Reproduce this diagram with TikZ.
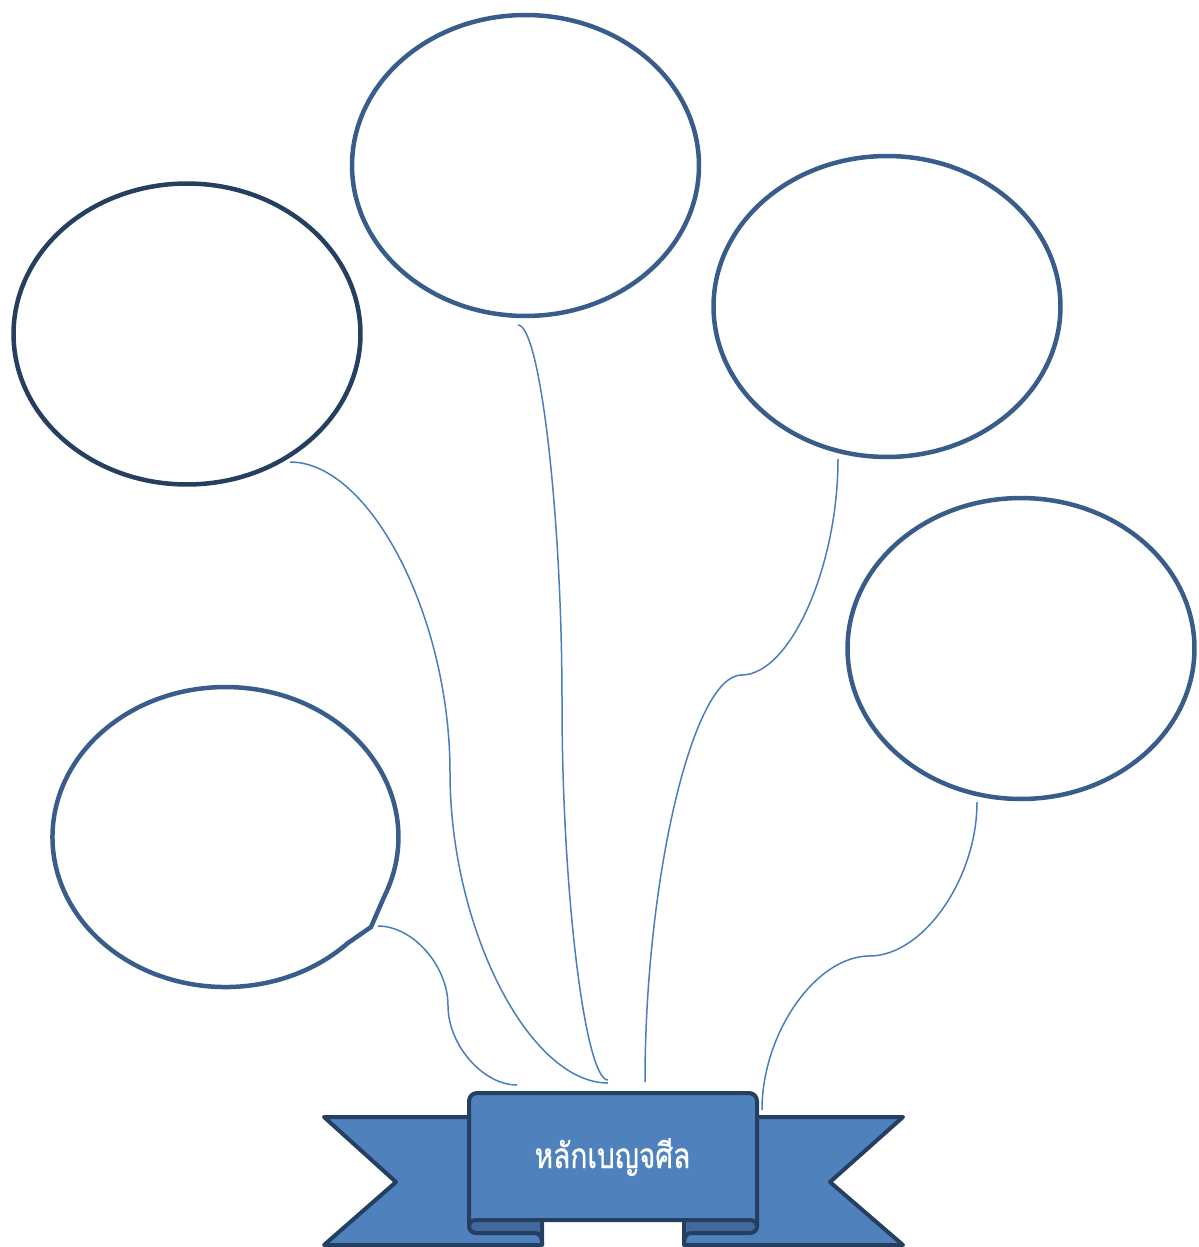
\documentclass[tikz,border=0pt]{standalone}
\usepackage{fontspec}
\newfontfamily\thaifont[Script=Thai, FakeStretch=0.8, FakeBold=0.8]{Loma}
\usetikzlibrary{shapes.geometric}
\definecolor{bubbleline}{HTML}{385D8A}
\definecolor{bubbledark}{HTML}{243F60}
\definecolor{linkblue}{HTML}{4A7EBB}
\definecolor{ribfill}{HTML}{4F81BD}
\definecolor{ribline}{HTML}{243F60}
\definecolor{ribshade}{HTML}{41699C}
\begin{document}
\begin{tikzpicture}[x=0.02cm,y=-0.02cm,
  bubble/.style={ellipse, draw=bubbleline, line width=0.09cm, minimum width=6.94cm, minimum height=6.02cm, inner sep=0pt},
  link/.style={draw=linkblue, line width=0.03cm},
  ribpart/.style={fill=ribfill, draw=ribline, line width=0.08cm, line join=round},
  ribedge/.style={draw=ribline, line width=0.08cm, line join=round},
]
\useasboundingbox (0,0) rectangle (1199,1247);

% ---- ribbon tails ----
\path[ribpart] (324,1117) -- (500,1117) -- (500,1215) -- (542,1215) -- (542,1245) -- (324,1245) -- (396,1182) -- cycle;
\path[ribpart] (903,1117) -- (726,1117) -- (726,1215) -- (684,1215) -- (684,1245) -- (903,1245) -- (830,1182) -- cycle;
% roll interiors
\fill[ribshade] (476,1220) arc[start angle=270, end angle=90, x radius=7, y radius=6.5] -- (540,1233) -- (540,1220) -- cycle;
\fill[ribshade] (750,1220) arc[start angle=270, end angle=450, x radius=7, y radius=6.5] -- (686,1233) -- (686,1220) -- cycle;
\draw[ribedge] (469,1226.5) arc[start angle=180, end angle=90, x radius=7, y radius=6.5] -- (535,1233) to[out=0,in=90] (542,1242) -- (542,1245);
\draw[ribedge] (757,1226.5) arc[start angle=0, end angle=90, x radius=7, y radius=6.5] -- (691,1233) to[out=180,in=90] (684,1242) -- (684,1245);
% ---- ribbon panel ----
\path[ribpart] (469,1226.5) -- (469,1101) arc[start angle=180, end angle=270, radius=8]
  -- (749,1093) arc[start angle=270, end angle=360, radius=8]
  -- (757,1226.5) arc[start angle=0, end angle=-90, x radius=7, y radius=6.5]
  -- (476,1220) arc[start angle=270, end angle=180, x radius=7, y radius=6.5] -- cycle;
\node[text=white, font=\thaifont\fontsize{20}{24}\selectfont, inner sep=0pt, anchor=base] (title) at (612.5,1168) {หลักเบญจศีล};

% ---- bubbles ----
\node[bubble, draw=bubbledark] (e1) at (187,334) {};
\node[bubble] (e2) at (525.5,165.5) {};
\node[bubble] (e3) at (887,306.5) {};
\node[bubble] (e4) at (1021,648.5) {};
\coordinate (e5) at (225.5,837);
\draw[draw=bubbleline, line width=0.09cm, line join=miter] (371,927) -- (347.8,943.1)
  arc[start angle=45, end angle=383.6, x radius=173, y radius=150] -- cycle;

% ---- connector end points ----
\coordinate (a0) at (290,462);   \coordinate (a1) at (450,772.5);  \coordinate (a2) at (608,1083);
\coordinate (b0) at (518,325);   \coordinate (b1) at (562,702.5);  \coordinate (b2) at (608,1080);
\coordinate (c0) at (838,459);   \coordinate (c1) at (741.5,675);  \coordinate (c2) at (645,1082);
\coordinate (d0) at (977,802);   \coordinate (d1) at (869.5,956);  \coordinate (d2) at (762,1110);
\coordinate (f0) at (378,926);   \coordinate (f1) at (448,1005.5); \coordinate (f2) at (517,1085);

% ---- connectors ----
\draw[link] (a0) .. controls (370,462) and (450,617) .. (a1) .. controls (450,928) and (529,1083) .. (a2);
\draw[link] (b0) .. controls (540,325) and (562,514) .. (b1) .. controls (562,891) and (585,1080) .. (b2);
\draw[link] (c0) .. controls (838,567) and (790,675) .. (c1) .. controls (693,675) and (645,878.5) .. (c2);
\draw[link] (d0) .. controls (977,879) and (923,956) .. (d1) .. controls (816,956) and (762,1033) .. (d2);
\draw[link] (f0) .. controls (413,926) and (448,966) .. (f1) .. controls (448,1045) and (483,1085) .. (f2);
\end{tikzpicture}
\end{document}
